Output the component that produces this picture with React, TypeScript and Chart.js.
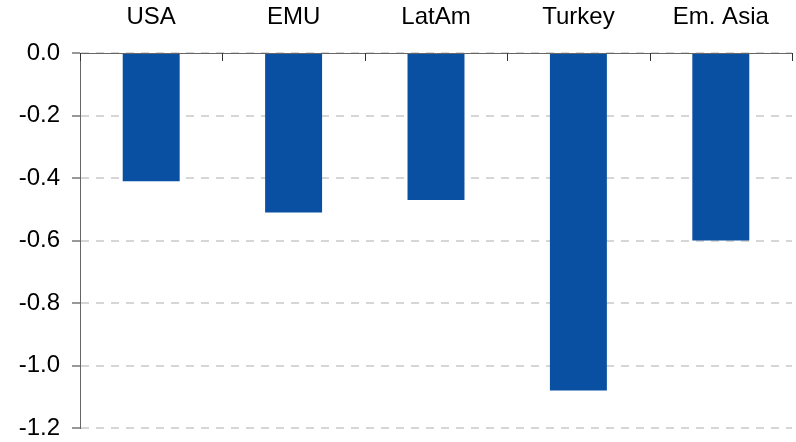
import React, { useEffect, useRef } from "react";
import { Chart, registerables } from "chart.js";

Chart.register(...registerables);

const categories = ["USA", "EMU", "LatAm", "Turkey", "Em. Asia"];
const values = [-0.41, -0.51, -0.47, -1.08, -0.6];
const yMin = -1.2;
const yMax = 0;
const yStep = 0.2;

const FONT = "'Liberation Sans', Arial, sans-serif";

const topTicksPlugin = {
  id: "topTicks",
  afterDraw(chart: any) {
    const xs = chart.scales.x;
    const ctx = chart.ctx;
    const n = categories.length;
    const w = xs.width / n;
    ctx.save();
    ctx.strokeStyle = "#333333";
    ctx.lineWidth = 1;
    for (let i = 0; i <= n; i++) {
      const x = Math.round(xs.left + i * w) + 0.5;
      ctx.beginPath();
      ctx.moveTo(x, xs.bottom);
      ctx.lineTo(x, xs.bottom + 8);
      ctx.stroke();
    }
    ctx.restore();
  },
};

export default function App() {
  const ref = useRef<HTMLCanvasElement>(null);
  useEffect(() => {
    document.body.style.margin = "0";
    const chart = new Chart(ref.current!, {
      type: "bar",
      data: {
        labels: categories,
        datasets: [
          {
            data: values,
            backgroundColor: "#0A50A2",
            barPercentage: 0.4,
            categoryPercentage: 1.0,
          },
        ],
      },
      options: {
        animation: false,
        responsive: false,
        maintainAspectRatio: false,
        layout: { padding: { top: 0, left: 0, right: 4, bottom: 14 } },
        plugins: { legend: { display: false }, tooltip: { enabled: false } },
        scales: {
          x: {
            position: "top",
            grid: { display: false },
            border: { display: true, color: "#666666", width: 1 },
            ticks: {
              color: "#000000",
              font: { family: FONT, size: 24 },
              padding: 13,
              maxRotation: 0,
            },
            afterFit(scale: any) {
              scale.height = 53;
              scale.paddingLeft = 0;
              scale.paddingRight = 0;
            },
          },
          y: {
            min: yMin,
            max: yMax,
            grid: {
              color: "#d6d6d6",
              lineWidth: 2,
              drawTicks: true,
              tickLength: 8,
              tickColor: "#333333",
              tickWidth: 1,
            },
            border: { display: true, color: "#666666", width: 1, dash: [8, 7] },
            ticks: {
              stepSize: yStep,
              color: "#000000",
              font: { family: FONT, size: 24 },
              padding: 12,
              callback: (v: any) => Number(v).toFixed(1),
            },
            afterFit(scale: any) {
              scale.width = 80;
              scale.paddingTop = 0;
              scale.paddingBottom = 0;
            },
          },
        },
      },
      plugins: [topTicksPlugin],
    });
    return () => chart.destroy();
  }, []);
  return (
    <div style={{ width: 796, height: 442 }}>
      <canvas ref={ref} width={796} height={442} style={{ display: "block" }} />
    </div>
  );
}
